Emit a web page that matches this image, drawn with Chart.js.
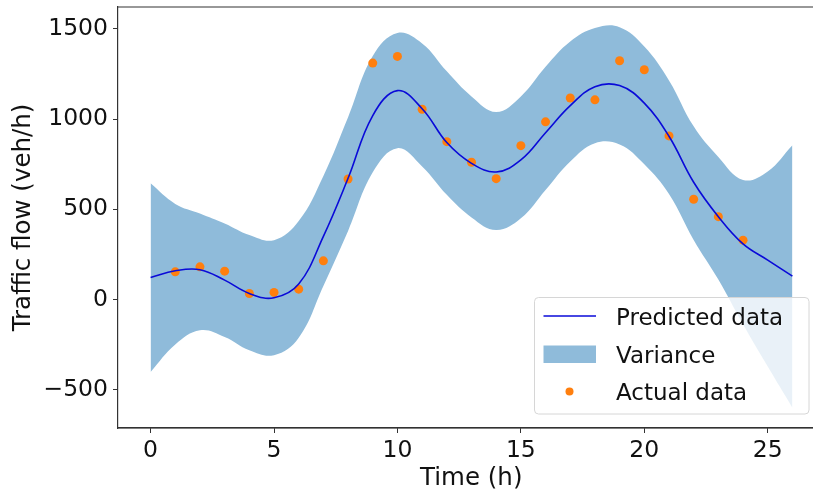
<!DOCTYPE html>
<html>
<head>
<meta charset="utf-8">
<script src="https://cdn.jsdelivr.net/npm/chart.js@4.4.1/dist/chart.umd.min.js"></script>
<style>
  html, body { margin: 0; padding: 0; background: #fff; overflow: hidden; }
  canvas { display: block; }
</style>
</head>
<body>
<canvas id="chart" width="813" height="493"></canvas>
<script>
'use strict';

/* ─── Données ──────────────────────────────────────────── */
var timeGrid   = [0, 1, 2, 3, 4, 5, 6, 7, 8, 9, 10, 11, 12, 13, 14, 15, 16, 17, 18, 19, 20, 21, 22, 23, 24, 25, 26];
var predicted  = [122, 159, 165, 107, 33, 9, 85, 350, 672, 1020, 1158, 1058, 870, 755, 707, 774, 925, 1075, 1180, 1186, 1089, 905, 650, 459, 308, 218, 129];
var upperBand  = [644, 530, 477, 421, 357, 329, 435, 685, 1010, 1350, 1478, 1420, 1265, 1126, 1040, 1126, 1290, 1430, 1505, 1510, 1403, 1215, 960, 790, 663, 710, 855];
var lowerBand  = [-402, -250, -171, -208, -282, -309, -212, 75, 380, 705, 839, 737, 580, 455, 385, 450, 607, 765, 867, 860, 750, 585, 330, 110, -138, -372, -600];

var actualTimes = [1, 2, 3, 4, 5, 6, 7, 8, 9, 10, 11, 12, 13, 14, 15, 16, 17, 18, 19, 20, 21, 22, 23, 24];
var actualFlow  = [153, 181, 157, 33, 39, 57, 214, 668, 1311, 1348, 1055, 875, 761, 670, 853, 985, 1117, 1107, 1324, 1274, 907, 556, 459, 329];

var xTicks = [0, 5, 10, 15, 20, 25];
var yTicks = [-500, 0, 500, 1000, 1500];

var legendLabels = ['Predicted data', 'Variance', 'Actual data'];

var LINE_COLOR = '#0a0ad8';
var BAND_COLOR = '#8fbbda';
var DOT_COLOR  = '#ff7f0e';
var FONT = 'DejaVu Sans';
var PLOT_RIGHT = 824.5;   /* le bord droit du cadre sort de l'image d'origine */

function toPoints(xs, ys) {
  var pts = [];
  for (var i = 0; i < xs.length; i++) { pts.push({ x: xs[i], y: ys[i] }); }
  return pts;
}

function fmtTick(v) {
  return String(v).replace('-', '\u2212');
}

/* pas de marge auto : la zone de tracé est fixée au pixel près */
function noPadding(scale) {
  scale.paddingTop = 0;
  scale.paddingBottom = 0;
  scale.paddingLeft = 0;
  scale.paddingRight = 0;
}

/* ─── Zone de tracé prolongée au-delà du canvas ────────── */
var widenPlugin = {
  id: 'widenArea',
  afterLayout: function(chart) {
    var xs = chart.scales.x;
    xs.right = PLOT_RIGHT;
    xs.width = xs.right - xs.left;
    xs.configure();
    chart.chartArea.right = PLOT_RIGHT;
    chart.chartArea.width = PLOT_RIGHT - chart.chartArea.left;
  }
};

/* ─── Cadre (haut + bas jusqu'au bord) + légende ───────── */
var framePlugin = {
  id: 'frameLegend',
  afterDraw: function(chart) {
    var ctx = chart.ctx;
    var a = chart.chartArea;
    ctx.save();
    ctx.strokeStyle = '#333';
    ctx.lineWidth = 1.2;
    ctx.beginPath();
    ctx.moveTo(a.left, a.top);
    ctx.lineTo(chart.width, a.top);
    ctx.moveTo(a.left, a.bottom);
    ctx.lineTo(chart.width, a.bottom);
    ctx.stroke();

    /* boîte de légende */
    var bx = 534.5, by = 297.5, bw = 274.5, bh = 116.5, r = 4;
    ctx.beginPath();
    ctx.moveTo(bx + r, by);
    ctx.lineTo(bx + bw - r, by);
    ctx.quadraticCurveTo(bx + bw, by, bx + bw, by + r);
    ctx.lineTo(bx + bw, by + bh - r);
    ctx.quadraticCurveTo(bx + bw, by + bh, bx + bw - r, by + bh);
    ctx.lineTo(bx + r, by + bh);
    ctx.quadraticCurveTo(bx, by + bh, bx, by + bh - r);
    ctx.lineTo(bx, by + r);
    ctx.quadraticCurveTo(bx, by, bx + r, by);
    ctx.closePath();
    ctx.fillStyle = 'rgba(255,255,255,0.8)';
    ctx.fill();
    ctx.strokeStyle = '#d6d6d6';
    ctx.lineWidth = 1;
    ctx.stroke();

    ctx.strokeStyle = LINE_COLOR;
    ctx.lineWidth = 1.6;
    ctx.beginPath();
    ctx.moveTo(543.5, 316);
    ctx.lineTo(596, 316);
    ctx.stroke();

    ctx.fillStyle = BAND_COLOR;
    ctx.fillRect(543.5, 345.5, 52.5, 17.5);

    ctx.fillStyle = DOT_COLOR;
    ctx.beginPath();
    ctx.arc(569.5, 391.5, 4, 0, Math.PI * 2);
    ctx.fill();

    ctx.fillStyle = '#111';
    ctx.font = '23px "' + FONT + '"';
    ctx.textBaseline = 'alphabetic';
    ctx.textAlign = 'left';
    ctx.fillText(legendLabels[0], 616, 325);
    ctx.fillText(legendLabels[1], 616, 362.5);
    ctx.fillText(legendLabels[2], 616, 400);
    ctx.restore();
  }
};

var ctx = document.getElementById('chart');
new Chart(ctx, {
  type: 'scatter',
  data: {
    datasets: [
      {
        label: legendLabels[0],
        data: toPoints(timeGrid, predicted),
        showLine: true,
        borderColor: LINE_COLOR,
        borderWidth: 1.6,
        pointRadius: 0,
        tension: 0.4,
        fill: false
      },
      {
        label: legendLabels[2],
        data: toPoints(actualTimes, actualFlow),
        pointRadius: 4.5,
        pointBackgroundColor: DOT_COLOR,
        pointBorderWidth: 0,
        showLine: false
      },
      {
        label: 'lower',
        data: toPoints(timeGrid, lowerBand),
        showLine: true,
        borderWidth: 0,
        borderColor: 'rgba(0,0,0,0)',
        pointRadius: 0,
        tension: 0.4,
        fill: false
      },
      {
        label: legendLabels[1],
        data: toPoints(timeGrid, upperBand),
        showLine: true,
        borderWidth: 0,
        borderColor: 'rgba(0,0,0,0)',
        backgroundColor: BAND_COLOR,
        pointRadius: 0,
        tension: 0.4,
        fill: { target: 2 }
      }
    ]
  },
  options: {
    responsive: false,
    animation: false,
    layout: { padding: { top: 7, right: 0, bottom: 0, left: 0 } },
    plugins: {
      legend: { display: false },
      tooltip: { enabled: false }
    },
    scales: {
      x: {
        type: 'linear',
        min: -1.32,
        max: 27.3,
        afterBuildTicks: function(scale) {
          scale.ticks = xTicks.map(function(v) { return { value: v }; });
        },
        afterFit: function(scale) { scale.height = 65; noPadding(scale); },
        grid: { display: true, drawOnChartArea: false, drawTicks: true, tickLength: 5, color: '#333' },
        border: { display: true, color: '#333', width: 1.2 },
        ticks: {
          color: '#111',
          font: { family: FONT, size: 23.5 },
          padding: 4,
          maxRotation: 0,
          callback: function(v) { return fmtTick(v); }
        },
        title: {
          display: true,
          text: 'Time (h)',
          color: '#111',
          font: { family: FONT, size: 24.5 },
          padding: { top: 0, bottom: 0 }
        }
      },
      y: {
        type: 'linear',
        min: -713,
        max: 1622,
        afterBuildTicks: function(scale) {
          scale.ticks = yTicks.map(function(v) { return { value: v }; });
        },
        afterFit: function(scale) { scale.width = 118; noPadding(scale); },
        grid: { display: true, drawOnChartArea: false, drawTicks: true, tickLength: 5, color: '#333' },
        border: { display: true, color: '#333', width: 1.2 },
        ticks: {
          color: '#111',
          font: { family: FONT, size: 23.5 },
          padding: 5,
          callback: function(v) { return fmtTick(v); }
        },
        title: {
          display: true,
          text: 'Traffic flow (veh/h)',
          color: '#111',
          font: { family: FONT, size: 24.5 },
          padding: { top: 9, bottom: 0 }
        }
      }
    }
  },
  plugins: [widenPlugin, framePlugin]
});
</script>
</body>
</html>
